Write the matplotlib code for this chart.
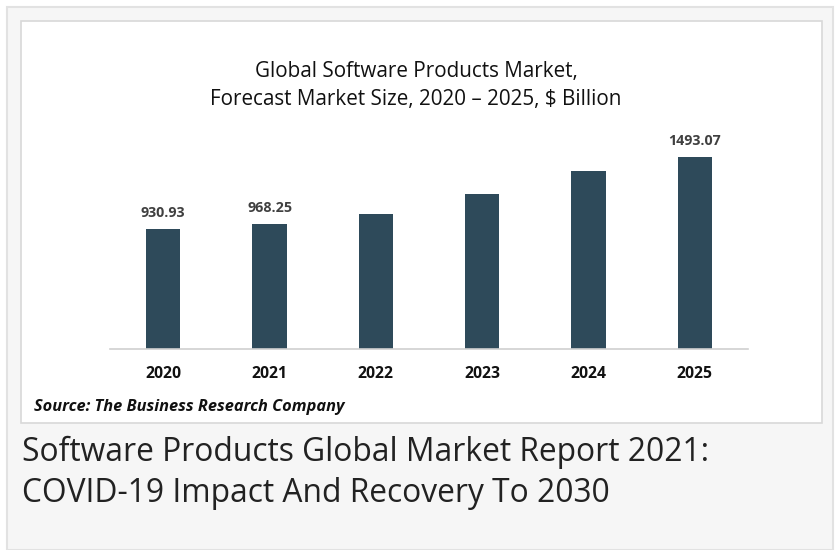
import matplotlib
matplotlib.use("Agg")
import matplotlib.pyplot as plt
from matplotlib.patches import Rectangle

years = ["2020", "2021", "2022", "2023", "2024", "2025"]
values = [930.93, 968.25, 1046, 1201, 1384, 1493.07]
labels = ["930.93", "968.25", "", "", "", "1493.07"]

W, H = 836, 550
fig = plt.figure(figsize=(W / 100, H / 100), dpi=100)
fig.patch.set_facecolor("white")

def fx(x):
    return x / W

def fy(y):
    return 1 - y / H

# outer gray panel
fig.patches.append(Rectangle((fx(7), 0), fx(833) - fx(7), fy(7), transform=fig.transFigure,
                             facecolor="#f6f6f6", edgecolor="#e2e2e2", linewidth=1.5, zorder=-2))
# inner white chart box
fig.patches.append(Rectangle((fx(21), fy(423)), fx(822) - fx(21), fy(21) - fy(423),
                             transform=fig.transFigure, facecolor="white", edgecolor="#d8d8d8",
                             linewidth=1.2, zorder=-1))

ax = fig.add_axes([fx(110), fy(349), fx(748) - fx(110), fy(130) - fy(349)])
ax.set_zorder(3)
ax.set_facecolor("none")
x = list(range(len(years)))
bars = ax.bar(x, values, width=0.325, color="#2E4A5A", zorder=2)
ax.set_xlim(-0.5, 5.5)
ax.set_ylim(0, 1700)
for s in ["top", "right", "left"]:
    ax.spines[s].set_visible(False)
ax.spines["bottom"].set_color("#d0d0d0")
ax.spines["bottom"].set_linewidth(1.2)
ax.set_yticks([])
ax.set_xticks(x)
ax.set_xticklabels(years, fontfamily="Open Sans", fontweight="bold", fontsize=11.3, color="#111111")
ax.tick_params(axis="x", length=0, pad=12.5)

for xi, v, lab in zip(x, values, labels):
    if lab:
        ax.annotate(lab, (xi, v), xytext=(0, 6.5), textcoords="offset points", ha="center",
                    va="bottom", fontfamily="Open Sans", fontweight="bold", fontsize=10.3, color="#404040")

fig.text(fx(416), fy(71), "Global Software Products Market,", ha="center", va="center",
         fontfamily="Open Sans", fontsize=14.9, color="#111111")
fig.text(fx(416), fy(99.5), "Forecast Market Size, 2020 – 2025, $ Billion", ha="center", va="center",
         fontfamily="Open Sans", fontsize=14.9, color="#111111")

fig.text(fx(34), fy(407), "Source: The Business Research Company", ha="left", va="center",
         fontfamily="Open Sans", fontweight="bold", fontstyle="italic", fontsize=11.8, color="#111111")

fig.text(fx(22), fy(452), "Software Products Global Market Report 2021:", ha="left", va="center",
         fontfamily="Open Sans", fontsize=22.9, color="#222222")
fig.text(fx(22), fy(494), "COVID-19 Impact And Recovery To 2030", ha="left", va="center",
         fontfamily="Open Sans", fontsize=22.9, color="#222222")

fig.savefig("out.png", dpi=100)
